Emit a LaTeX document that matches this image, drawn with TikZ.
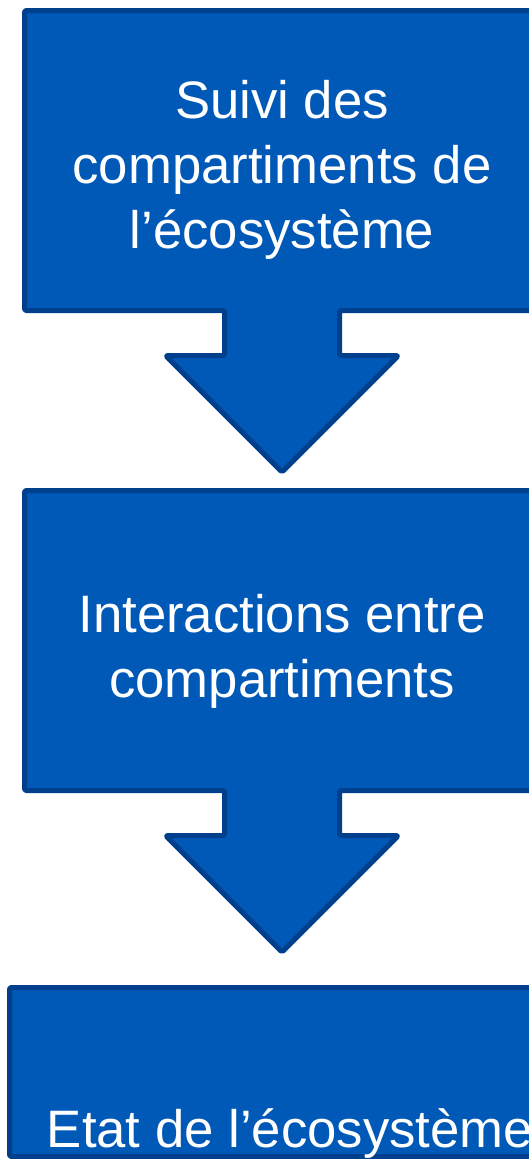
\documentclass[tikz,border=0pt]{standalone}
\usepackage{fontspec}
\setmainfont{Liberation Sans}
\definecolor{boxfill}{HTML}{0058B7}
\definecolor{boxline}{HTML}{003F8B}
\begin{document}
\begin{tikzpicture}[x=1pt,y=1pt,
  callout/.style={fill=boxfill,draw=boxline,line width=5pt,line join=round,rounded corners=1.5pt},
  label/.style={text=white,align=center,font=\fontsize{52.7}{65}\selectfont,inner sep=0pt}]
\useasboundingbox (0,0) rectangle (529,-1159);
\clip (0,0) rectangle (529,-1159);
% box 1 with arrow
\draw[callout] (24.5,-10.5) -- (570,-10.5) -- (570,-310.5) -- (339.5,-310.5) -- (339.5,-355.5)
  -- (398.5,-355.5) -- (282,-472) -- (165.5,-355.5) -- (224.5,-355.5) -- (224.5,-310.5)
  -- (24.5,-310.5) -- cycle;
% box 2 with arrow
\draw[callout] (24.5,-490.5) -- (570,-490.5) -- (570,-790.5) -- (339.5,-790.5) -- (339.5,-835.5)
  -- (398.5,-835.5) -- (282,-952) -- (165.5,-835.5) -- (224.5,-835.5) -- (224.5,-790.5)
  -- (24.5,-790.5) -- cycle;
% box 3
\draw[callout] (9.5,-987.5) -- (580,-987.5) -- (580,-1156.5) -- (9.5,-1156.5) -- cycle;
\node[label] (t1) at (282,-169.5) {Suivi des\\compartiments de\\l’écosystème};
\node[label] (t2) at (282,-651) {Interactions entre\\compartiments};
\node[label,anchor=base] (t3) at (290,-1147) {Etat de l’écosystème};
\end{tikzpicture}
\end{document}
